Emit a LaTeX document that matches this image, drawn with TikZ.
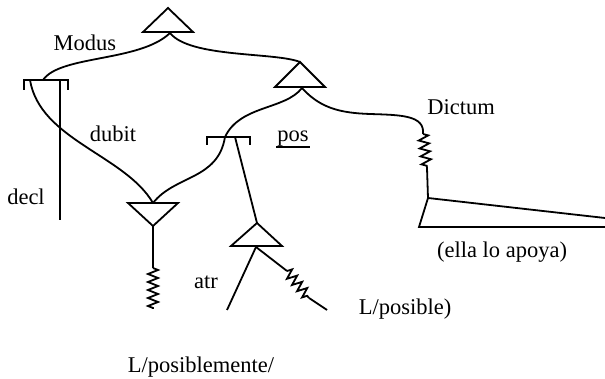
\documentclass[tikz,border=0pt]{standalone}
\usepackage{fontspec}
\setmainfont{Liberation Serif}
\usetikzlibrary{decorations.pathmorphing}
\begin{document}
\begin{tikzpicture}[x=1pt,y=-1pt,line width=1.8pt,
  lbl/.style={font=\fontsize{22.5}{26}\selectfont,inner sep=0pt},
  zz/.style={decorate,decoration={zigzag,segment length=8pt,amplitude=5pt}}]
\useasboundingbox (0,0) rectangle (605,379);
% top triangle
\coordinate (t0a) at (168,8);
\coordinate (t0l) at (143,32);
\coordinate (t0r) at (193,32);
\coordinate (t0b) at (170,33);
\draw (t0a) -- (t0l) -- (t0r) -- cycle;
% left T (decl)
\coordinate (tl1) at (24,90);
\coordinate (tl2) at (24,80);
\coordinate (tl3) at (68,80);
\coordinate (tl4) at (68,90);
\coordinate (tlm) at (43,80);
\coordinate (tld) at (30,80);
\coordinate (tlv) at (60,80);
\coordinate (decE) at (60,220);
\draw (tl1) -- (tl2) -- (tl3) -- (tl4);
\draw (tlv) -- (decE);
\draw (t0b) .. controls (140,62) and (60,55) .. (tlm);
% inverted triangle
\coordinate (itl) at (128,203);
\coordinate (itr) at (178,203);
\coordinate (itb) at (153,226);
\coordinate (itt) at (153,203);
\draw (itl) -- (itr) -- (itb) -- cycle;
\draw (tld) .. controls (40,140) and (125,155) .. (itt);
\coordinate (iz1) at (153,268);
\coordinate (iz2) at (153,309);
\draw (itb) -- (iz1);
\draw[zz] (iz1) -- (iz2);
% second triangle
\coordinate (t2a) at (300,62);
\coordinate (t2l) at (275,87);
\coordinate (t2r) at (325,87);
\coordinate (t2b) at (302,88);
\draw (t2a) -- (t2l) -- (t2r) -- cycle;
\draw (t0b) .. controls (190,58) and (275,52) .. (t2a);
% pos T
\coordinate (tp1) at (207,145);
\coordinate (tp2) at (207,137);
\coordinate (tp3) at (250,137);
\coordinate (tp4) at (250,145);
\coordinate (tpm) at (225,137);
\coordinate (tpv) at (235,137);
\draw (tp1) -- (tp2) -- (tp3) -- (tp4);
\draw (t2b) .. controls (285,110) and (240,105) .. (tpm);
\draw (tpm) .. controls (218,180) and (175,175) .. (itt);
% small triangle
\coordinate (sta) at (257,223);
\coordinate (stl) at (231,246);
\coordinate (str) at (282,246);
\coordinate (stb) at (256,247);
\draw (sta) -- (stl) -- (str) -- cycle;
\draw (tpv) -- (sta);
\coordinate (atrE) at (227,310);
\draw (stb) -- (atrE);
\coordinate (sz1) at (287,271);
\coordinate (sz2) at (309,298);
\coordinate (szE) at (327,310);
\draw (stb) -- (sz1);
\draw[zz] (sz1) -- (sz2);
\draw (sz2) -- (szE);
% Dictum branch
\coordinate (dz1) at (423,134);
\coordinate (dz2) at (427,168);
\coordinate (fta) at (428,198);
\coordinate (ftb) at (419,227);
\coordinate (ftr) at (605,227);
\coordinate (ftt) at (605,218);
\draw (t2b) .. controls (320,108) and (340,113) .. (370,114)
            .. controls (400,115) and (425,115) .. (dz1);
\draw[zz] (dz1) -- (dz2);
\draw (dz2) -- (fta);
\draw (ftt) -- (fta) -- (ftb) -- (ftr);
% labels
\node[lbl] (modus) at (85,43) {Modus};
\node[lbl] (dubit) at (113,134) {dubit};
\node[lbl] (decl) at (26,197) {decl};
\node[lbl,anchor=base] (pos) at (293,142) {pos};
\draw[line width=1.5pt] ([yshift=-5pt]pos.base west) -- ([yshift=-5pt]pos.base east);
\node[lbl] (dictum) at (461,107) {Dictum};
\node[lbl] (atr) at (206,282) {atr};
\node[lbl] (ella) at (502,252) {(ella lo apoya)};
\node[lbl] (lpos) at (405,309) {L/posible)};
\node[lbl] (lposm) at (201,367) {L/posiblemente/};
\end{tikzpicture}
\end{document}
